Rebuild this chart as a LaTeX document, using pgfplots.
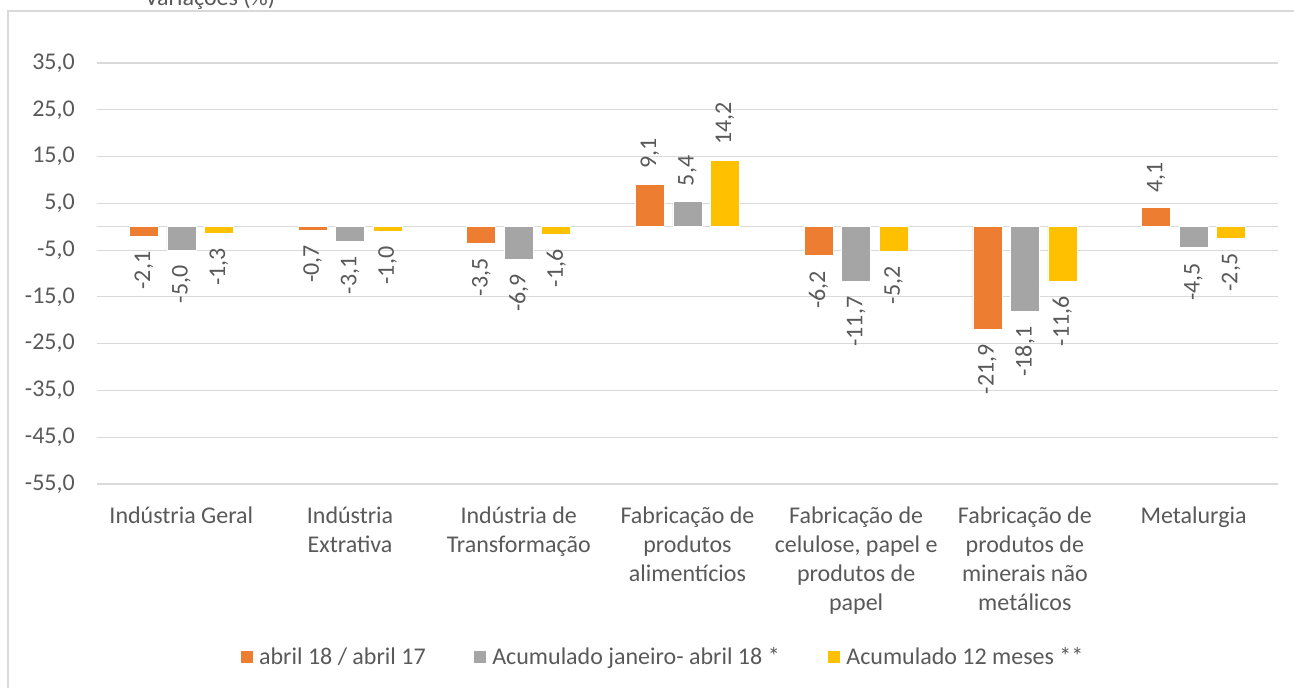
\documentclass[border=0pt]{standalone}
\usepackage{fontspec}
\setmainfont{Carlito}
\usepackage{pgfplots}
\pgfplotsset{compat=1.18}
\definecolor{cOr}{HTML}{ED7D31}
\definecolor{cGr}{HTML}{A5A5A5}
\definecolor{cYe}{HTML}{FFC000}
\definecolor{cTx}{HTML}{595959}
\definecolor{cGd}{HTML}{D9D9D9}
\pgfplotsset{
  sq/.style={legend image code/.code={\fill[##1] (0pt,-6.5pt) rectangle (13pt,6.5pt);}},
}
\newcommand{\fs}{\fontsize{24}{29}\selectfont}
\tikzset{ylab/.style={anchor=east, font=\fontsize{24}{29}\selectfont, text=cTx, inner sep=0pt, xshift=-22pt}}
\begin{document}
\begin{tikzpicture}[x=1pt,y=1pt]
\useasboundingbox (0,0) rectangle (1294,688);
\clip (0,0) rectangle (1294,688);
\coordinate (O) at (97,204);
\draw[cGd, line width=1.2pt] (8,-10) -- (8,677) -- (1310,677);
\node[anchor=base, text=cTx, inner sep=0pt, font=\fs] at (210,682) {Variações (\%)};
\begin{axis}[
  at={(O)}, anchor=south west, scale only axis, clip=false,
  width=1181pt, height=421pt,
  ymin=-55, ymax=35, xmin=-0.5, xmax=6.5,
  ytick={-55,-45,-35,-25,-15,-5,0,5,15,25,35},
  yticklabels={},
  ymajorgrids, major grid style={cGd, line width=1.2pt},
  axis line style={draw=none}, major tick length=0pt,
  xtick={0,...,6},
  xticklabels={{Indústria Geral},{Indústria\\Extrativa},{Indústria de\\Transformação},{Fabricação de\\produtos\\alimentícios},{Fabricação de\\celulose, papel e\\produtos de\\papel},{Fabricação de\\produtos de\\minerais não\\metálicos},{Metalurgia}},
  x tick label style={align=center, font=\fs, text=cTx, anchor=north, inner sep=0pt, yshift=-23pt},
  ybar=8.5pt, bar width=29pt,
  visualization depends on={rawy \as \rawy},
  nodes near coords={\pgfmathprintnumber[fixed, fixed zerofill, precision=1, use comma, assume math mode=true]{\pgfplotspointmeta}},
  every node near coord/.append style={rotate=90, font=\fs, text=cTx, inner xsep=15pt, inner ysep=0pt},
  every node near coord/.append code={\ifdim\rawy pt<0pt \pgfkeysalso{anchor=east}\else\pgfkeysalso{anchor=west}\fi},
  legend style={at={(0.478,-0.411)}, anchor=center, draw=none, fill=none, legend columns=3,
     font=\fs, text=cTx, nodes={inner sep=0pt},
     /tikz/every odd column/.append style={column sep=6pt},
     /tikz/every even column/.append style={column sep=47pt}},
]
\addplot[fill=cOr, draw=white, line width=0.6pt, sq] coordinates {(0,-2.1) (1,-0.7) (2,-3.5) (3,9.1) (4,-6.2) (5,-21.9) (6,4.1)};
\addlegendentry{abril 18 / abril 17}
\addplot[fill=cGr, draw=white, line width=0.6pt, sq] coordinates {(0,-5.0) (1,-3.1) (2,-6.9) (3,5.4) (4,-11.7) (5,-18.1) (6,-4.5)};
\addlegendentry{Acumulado janeiro- abril 18 *}
\addplot[fill=cYe, draw=white, line width=0.6pt, sq] coordinates {(0,-1.3) (1,-1.0) (2,-1.6) (3,14.2) (4,-5.2) (5,-11.6) (6,-2.5)};
\addlegendentry{Acumulado 12 meses **}
\node[ylab] at (axis cs:-0.5,35) {35,0};
\node[ylab] at (axis cs:-0.5,25) {25,0};
\node[ylab] at (axis cs:-0.5,15) {15,0};
\node[ylab] at (axis cs:-0.5,5) {5,0};
\node[ylab] at (axis cs:-0.5,-5) {-5,0};
\node[ylab] at (axis cs:-0.5,-15) {-15,0};
\node[ylab] at (axis cs:-0.5,-25) {-25,0};
\node[ylab] at (axis cs:-0.5,-35) {-35,0};
\node[ylab] at (axis cs:-0.5,-45) {-45,0};
\node[ylab] at (axis cs:-0.5,-55) {-55,0};
\end{axis}
\end{tikzpicture}
\end{document}
